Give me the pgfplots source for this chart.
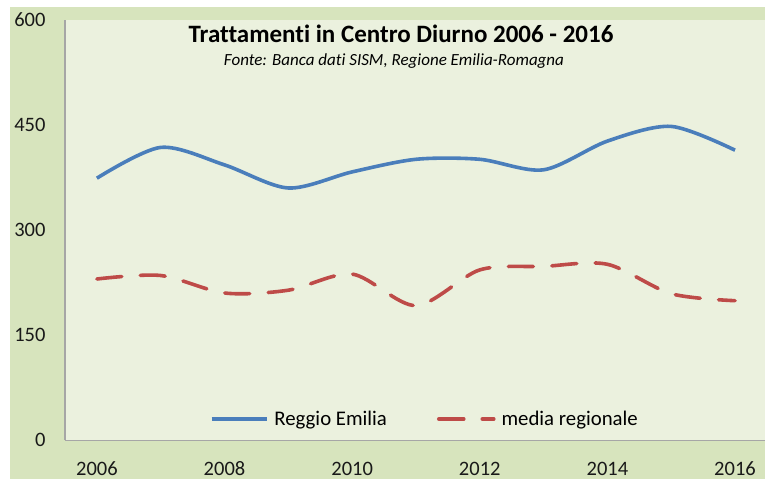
\documentclass[border=0pt]{standalone}
\usepackage{pgfplots}
\pgfplotsset{compat=1.18}
\usepackage{fontspec}
\setmainfont{Carlito}[Ligatures=NoCommon]
\definecolor{outerbg}{HTML}{D7E4BD}
\definecolor{innerbg}{HTML}{EBF1DE}
\definecolor{reblue}{HTML}{4A7EBB}
\definecolor{rered}{HTML}{BE4B48}
\definecolor{axgray}{HTML}{A6A6A6}
\begin{document}
\begin{tikzpicture}[x=1pt,y=1pt]
\path[use as bounding box, clip] (0,0) rectangle (765,479);
\fill[white] (0,0) rectangle (765,479);
\fill[outerbg] (10,0) rectangle (765,472);
\begin{axis}[
  at={(65pt,39pt)}, anchor=south west,
  scale only axis, width=700pt, height=420pt,
  xmin=2005.5, xmax=2016.47, ymin=0, ymax=600,
  xtick={2006,2008,...,2016}, ytick={0,150,...,600},
  axis background/.style={fill=innerbg},
  axis x line*=bottom, axis y line*=left,
  axis line style={axgray, line width=1pt},
  major tick length=0pt,
  /pgf/number format/assume math mode=true,
  /pgf/number format/1000 sep={},
  tick label style={font=\fontsize{20.5}{20.5}\selectfont, text=black!90},
  yticklabel style={anchor=east, xshift=-16pt},
  xticklabel style={anchor=base, yshift=-35pt},
  legend style={at={(0.514,0.05)}, anchor=center, draw=none, fill=none,
    font=\fontsize{20.8}{20.8}\selectfont, legend columns=2,
    /tikz/every odd column/.append style={column sep=4pt},
    /tikz/every even column/.append style={column sep=48pt}},
  legend image code/.code={\draw[#1] (0pt,0pt) -- (55pt,0pt);},
]
\addplot[reblue, line width=3.6pt, smooth, tension=0.5] coordinates {
(2006,374) (2007,418) (2008,393) (2009,360) (2010,383) (2011,401)
(2012,401) (2013,386) (2014,427) (2015,448) (2016,414)};
\addlegendentry{Reggio Emilia}
\addplot[rered, line width=3.6pt, smooth, tension=0.5, dash pattern=on 25pt off 18.5pt, line cap=round] coordinates {
(2006,230) (2007,235) (2008,210) (2009,214) (2010,237) (2011,192)
(2012,243) (2013,248) (2014,251) (2015,209) (2016,199)};
\addlegendentry{media regionale}
\end{axis}
\node[anchor=base, font=\fontsize{25}{25}\selectfont\bfseries] at (401,436) {Trattamenti in Centro Diurno 2006 - 2016};
\node[anchor=base, font=\fontsize{17}{17}\selectfont\itshape] at (394,413) {Fonte: Banca dati SISM, Regione Emilia-Romagna};
\end{tikzpicture}
\end{document}
